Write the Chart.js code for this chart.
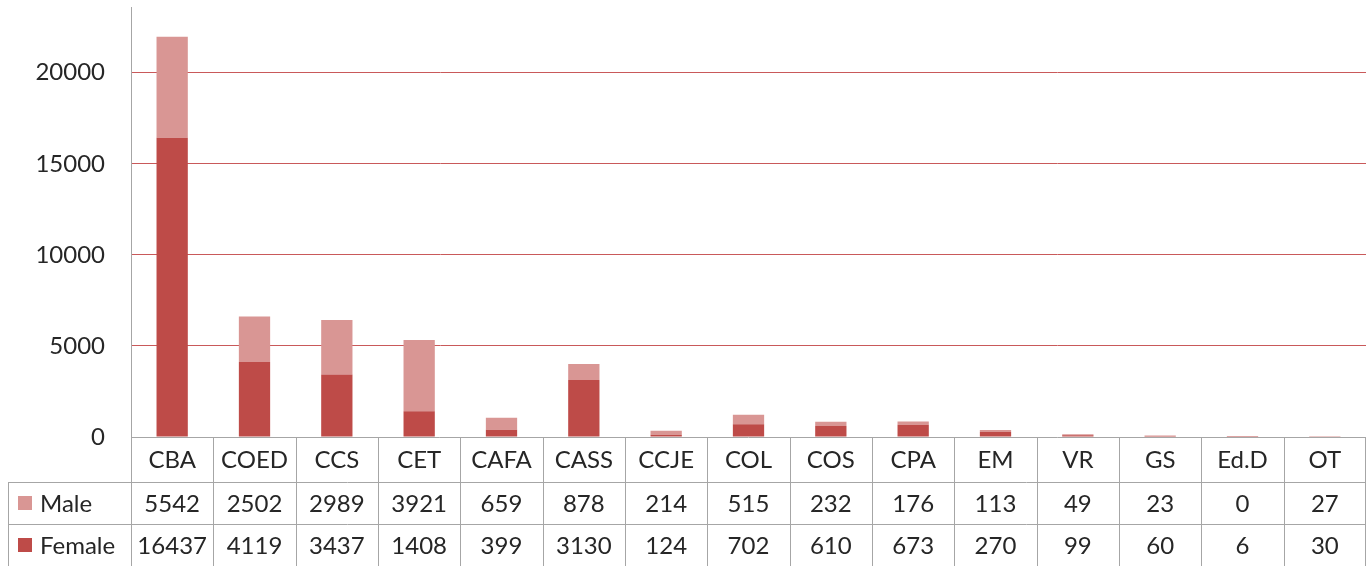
<!DOCTYPE html>
<html lang="en">
<head>
    <meta charset="UTF-8">
    <title>Enrollment by College and Gender</title>
    <script src="https://cdn.jsdelivr.net/npm/chart.js@4.4.1/dist/chart.umd.min.js"></script>
    <style>
        html, body { margin: 0; padding: 0; background: #fff; }
        #wrap { width: 1368px; height: 569px; }
    </style>
</head>
<body>
    <div id="wrap"><canvas id="enrollChart" width="1368" height="569"></canvas></div>

    <script>
        // data
        var colleges = ['CBA', 'COED', 'CCS', 'CET', 'CAFA', 'CASS', 'CCJE', 'COL', 'COS', 'CPA', 'EM', 'VR', 'GS', 'Ed.D', 'OT'];
        var male = [5542, 2502, 2989, 3921, 659, 878, 214, 515, 232, 176, 113, 49, 23, 0, 27];
        var female = [16437, 4119, 3437, 1408, 399, 3130, 124, 702, 610, 673, 270, 99, 60, 6, 30];
        var yTicks = [0, 5000, 10000, 15000, 20000];

        var maleColor = '#D99694';
        var femaleColor = '#BE4B48';
        var lineColor = '#A6A6A6';
        var textColor = '#262626';
        var fontFamily = 'Lato, "Open Sans", sans-serif';
        var fontSize = 24;

        // draws the data table under the plot, columns follow the x scale
        var dataTablePlugin = {
            id: 'dataTable',
            afterDraw: function (chart) {
                var ctx = chart.ctx;
                var area = chart.chartArea;
                var x = chart.scales.x;
                var rowH = [45, 42, 42];
                var top = area.bottom;
                var r1 = top + rowH[0];
                var r2 = r1 + rowH[1];
                var r3 = r2 + rowH[2];
                var leftEdge = 8;
                var colW = (area.right - area.left) / colleges.length;

                ctx.save();
                ctx.strokeStyle = lineColor;
                ctx.lineWidth = 1;
                ctx.beginPath();
                ctx.moveTo(area.left, top + 0.5); ctx.lineTo(area.right, top + 0.5);
                ctx.moveTo(leftEdge, r1 + 0.5); ctx.lineTo(area.right, r1 + 0.5);
                ctx.moveTo(leftEdge, r2 + 0.5); ctx.lineTo(area.right, r2 + 0.5);
                ctx.moveTo(leftEdge + 0.5, r1); ctx.lineTo(leftEdge + 0.5, r3);
                for (var i = 0; i <= colleges.length; i++) {
                    var cx = Math.round(area.left + i * colW) + 0.5;
                    if (i === colleges.length) cx = area.right - 0.5;
                    ctx.moveTo(cx, top); ctx.lineTo(cx, r3);
                }
                ctx.stroke();

                ctx.fillStyle = textColor;
                ctx.font = fontSize + 'px ' + fontFamily;
                ctx.textAlign = 'center';
                ctx.textBaseline = 'middle';
                colleges.forEach(function (c, i) {
                    var px = x.getPixelForValue(i);
                    ctx.fillText(c, px, top + rowH[0] / 2 + 1);
                    ctx.fillText(String(male[i]), px, r1 + rowH[1] / 2 + 1);
                    ctx.fillText(String(female[i]), px, r2 + rowH[2] / 2 + 1);
                });

                // legend keys
                ctx.textAlign = 'left';
                ctx.fillStyle = maleColor;
                ctx.fillRect(18, r1 + rowH[1] / 2 - 7, 14, 14);
                ctx.fillStyle = femaleColor;
                ctx.fillRect(18, r2 + rowH[2] / 2 - 7, 14, 14);
                ctx.fillStyle = textColor;
                ctx.fillText('Male', 40, r1 + rowH[1] / 2 + 1);
                ctx.fillText('Female', 40, r2 + rowH[2] / 2 + 1);
                ctx.restore();
            }
        };

        var ctx = document.getElementById('enrollChart').getContext('2d');
        var chart = new Chart(ctx, {
            type: 'bar',
            data: {
                labels: colleges,
                datasets: [{
                    label: 'Female',
                    data: female,
                    backgroundColor: femaleColor,
                    barPercentage: 0.38,
                    categoryPercentage: 1.0
                }, {
                    label: 'Male',
                    data: male,
                    backgroundColor: maleColor,
                    barPercentage: 0.38,
                    categoryPercentage: 1.0
                }]
            },
            options: {
                responsive: false,
                animation: false,
                layout: { padding: { top: 0, bottom: 132, right: 2, left: 0 } },
                plugins: {
                    legend: { display: false },
                    tooltip: { enabled: false }
                },
                scales: {
                    x: {
                        stacked: true,
                        display: false
                    },
                    y: {
                        stacked: true,
                        min: 0,
                        max: 23600,
                        afterBuildTicks: function (scale) {
                            var t = yTicks.map(function (v) { return { value: v }; });
                            t.push({ value: scale.max });
                            scale.ticks = t;
                        },
                        afterFit: function (scale) { scale.width = 131; },
                        border: { color: lineColor, width: 1 },
                        grid: {
                            color: function (c) {
                                return yTicks.indexOf(c.tick.value) > 0 ? '#C9595A' : 'rgba(0,0,0,0)';
                            },
                            drawTicks: true,
                            tickLength: 26,
                            tickColor: 'rgba(0,0,0,0)'
                        },
                        ticks: {
                            color: textColor,
                            padding: 0,
                            font: { family: fontFamily, size: fontSize, lineHeight: 0.6 },
                            callback: function (v) {
                                return yTicks.indexOf(v) >= 0 ? String(v) : '';
                            }
                        }
                    }
                }
            },
            plugins: [dataTablePlugin]
        });
    </script>
</body>
</html>
